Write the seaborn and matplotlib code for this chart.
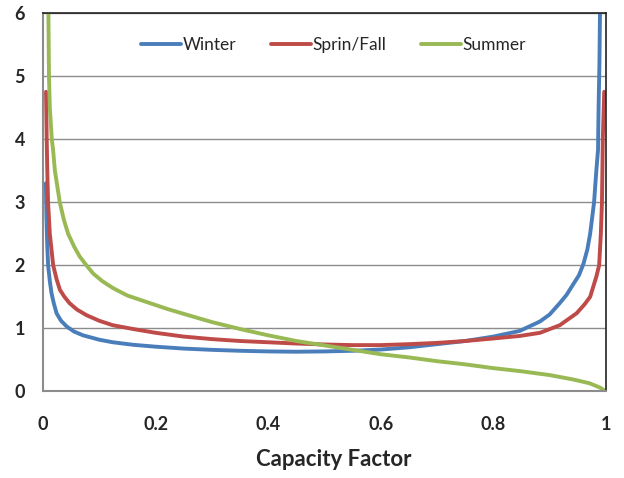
import pandas as pd
import seaborn as sns
import matplotlib.pyplot as plt

# values
winter_cf = [0.005, 0.006, 0.0075, 0.009, 0.012, 0.015, 0.019, 0.024, 0.032, 0.042,
             0.055, 0.071, 0.1, 0.124, 0.16, 0.2, 0.25, 0.3, 0.35, 0.4,
             0.45, 0.5, 0.55, 0.6, 0.65, 0.7, 0.75, 0.8, 0.847, 0.883,
             0.9, 0.918, 0.93, 0.942, 0.952, 0.96, 0.967, 0.972, 0.979, 0.983,
             0.986, 0.987, 0.9885, 0.9895]
winter_pdf = [3.3, 2.77, 2.3, 2.0, 1.75, 1.56, 1.4, 1.24, 1.12, 1.03,
              0.95, 0.89, 0.82, 0.78, 0.74, 0.71, 0.68, 0.66, 0.645, 0.635,
              0.63, 0.635, 0.645, 0.665, 0.70, 0.75, 0.80, 0.87, 0.96, 1.11,
              1.22, 1.40, 1.53, 1.70, 1.84, 2.02, 2.25, 2.5, 3.0, 3.5,
              3.83, 4.5, 5.2, 6.0]

spring_cf = [0.0053, 0.0065, 0.0075, 0.0089, 0.012, 0.018, 0.024, 0.03, 0.038, 0.047,
             0.06, 0.077, 0.1, 0.124, 0.16, 0.2, 0.25, 0.3, 0.35, 0.4,
             0.45, 0.5, 0.55, 0.6, 0.65, 0.7, 0.75, 0.8, 0.847, 0.883,
             0.918, 0.948, 0.962, 0.972, 0.983, 0.988, 0.991, 0.993, 0.9945, 0.997]
spring_pdf = [4.75, 4.0, 3.5, 3.0, 2.5, 2.0, 1.78, 1.61, 1.5, 1.4,
              1.3, 1.21, 1.12, 1.05, 0.99, 0.93, 0.87, 0.83, 0.80, 0.78,
              0.76, 0.745, 0.735, 0.735, 0.75, 0.77, 0.80, 0.84, 0.88, 0.93,
              1.05, 1.24, 1.38, 1.5, 1.82, 2.0, 2.5, 3.0, 4.0, 4.75]

summer_cf = [0.0095, 0.0105, 0.012, 0.0155, 0.0178, 0.021, 0.0297, 0.037, 0.0445, 0.055,
             0.065, 0.077, 0.089, 0.105, 0.124, 0.15, 0.19, 0.22, 0.25, 0.3,
             0.35, 0.4, 0.45, 0.5, 0.55, 0.6, 0.65, 0.7, 0.75, 0.8,
             0.85, 0.9, 0.942, 0.971, 0.99, 1.0]
summer_pdf = [6.0, 5.0, 4.5, 4.0, 3.83, 3.5, 3.0, 2.72, 2.5, 2.3,
              2.14, 2.0, 1.87, 1.75, 1.64, 1.52, 1.40, 1.31, 1.23, 1.1,
              0.99, 0.89, 0.8, 0.73, 0.66, 0.59, 0.54, 0.48, 0.43, 0.37,
              0.32, 0.26, 0.19, 0.13, 0.06, 0.0]

series_names = ['Winter', 'Sprin/Fall', 'Summer']
colors = ['#4A7EBB', '#BE4B48', '#98B954']

df = pd.concat([
    pd.DataFrame({'cf': winter_cf, 'pdf': winter_pdf, 'season': series_names[0]}),
    pd.DataFrame({'cf': spring_cf, 'pdf': spring_pdf, 'season': series_names[1]}),
    pd.DataFrame({'cf': summer_cf, 'pdf': summer_pdf, 'season': series_names[2]}),
])

sns.set_style('white')
plt.rcParams['font.family'] = ['Lato', 'DejaVu Sans']

fig = plt.figure(figsize=(6.24, 4.78), dpi=100)
ax = fig.add_axes([0.069, 0.181, 0.902, 0.792])

sns.lineplot(data=df, x='cf', y='pdf', hue='season', hue_order=series_names,
             palette=colors, estimator=None, linewidth=2.8, ax=ax)

ax.set_xlim(0, 1)
ax.set_ylim(0, 6)
ax.set_xticks([0, 0.2, 0.4, 0.6, 0.8, 1])
ax.set_xticklabels(['0', '0.2', '0.4', '0.6', '0.8', '1'])
ax.set_yticks(range(7))
ax.grid(axis='y', color='#8c8c8c', linewidth=1)
ax.set_axisbelow(True)

for s in ['left', 'bottom']:
    ax.spines[s].set_color('#8c8c8c')
    ax.spines[s].set_linewidth(1.5)
for s in ['top', 'right']:
    ax.spines[s].set_color('#222222')
    ax.spines[s].set_linewidth(1.2)

ax.tick_params(axis='both', direction='out', length=5, width=1.2, color='#8c8c8c',
               labelsize=13)
ax.tick_params(axis='x', pad=13)
ax.tick_params(axis='y', pad=8)
for lab in ax.get_xticklabels() + ax.get_yticklabels():
    lab.set_fontweight('bold')

ax.set_xlabel('Capacity Factor', fontsize=16, fontweight='bold')
ax.xaxis.set_label_coords(0.517, -0.152)
ax.set_ylabel('')

ax.legend(loc='center', bbox_to_anchor=(0.516, 0.915), ncol=3, frameon=False,
          fontsize=12.5, handlelength=2.3, columnspacing=2.0, handletextpad=0.1)

fig.savefig('out.png', dpi=100)
